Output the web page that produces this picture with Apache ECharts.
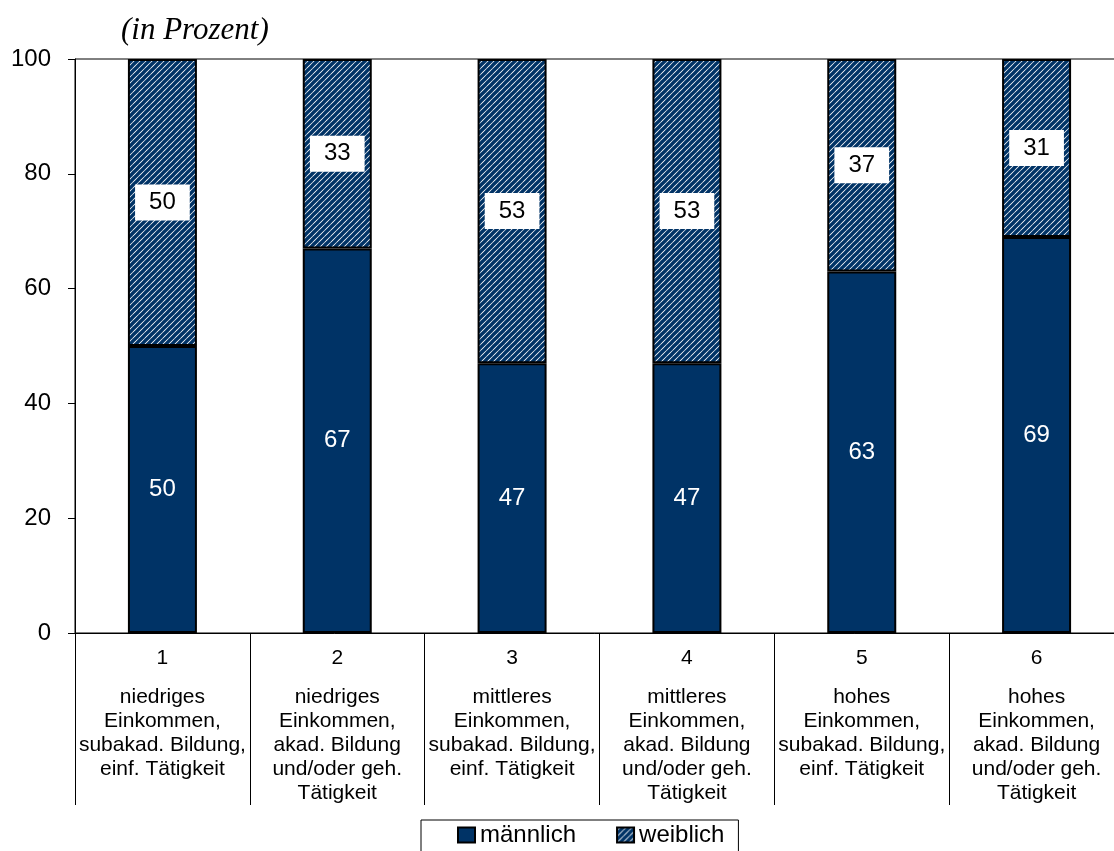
<!DOCTYPE html>
<html>
<head>
<meta charset="utf-8">
<script src="https://cdn.jsdelivr.net/npm/echarts@6/dist/echarts.min.js"></script>
<style>
html,body{margin:0;padding:0;background:#fff;}
#chart{width:1114px;height:851px;}
</style>
</head>
<body>
<div id="chart"></div>
<script>
var categoryNumbers = ['1', '2', '3', '4', '5', '6'];
var categoryTexts = [
  'niedriges\nEinkommen,\nsubakad. Bildung,\neinf. Tätigkeit',
  'niedriges\nEinkommen,\nakad. Bildung\nund/oder geh.\nTätigkeit',
  'mittleres\nEinkommen,\nsubakad. Bildung,\neinf. Tätigkeit',
  'mittleres\nEinkommen,\nakad. Bildung\nund/oder geh.\nTätigkeit',
  'hohes\nEinkommen,\nsubakad. Bildung,\neinf. Tätigkeit',
  'hohes\nEinkommen,\nakad. Bildung\nund/oder geh.\nTätigkeit'
];
var maleValues = [50, 67, 47, 47, 63, 69];
var femaleValues = [50, 33, 53, 53, 37, 31];
var seriesNames = ['männlich', 'weiblich'];
var yTicks = [0, 20, 40, 60, 80, 100];
var titleText = '(in Prozent)';

var NAVY = '#003366';

function makeHatch() {
  var s = 6;
  var c = document.createElement('canvas');
  c.width = s; c.height = s;
  var ctx = c.getContext('2d');
  ctx.fillStyle = '#ffffff';
  ctx.fillRect(0, 0, s, s);
  ctx.strokeStyle = NAVY;
  ctx.lineWidth = 3.4;
  ctx.lineCap = 'square';
  var segs = [[-s, s, s, -s], [0, s, s, 0], [0, 2 * s, 2 * s, 0]];
  segs.forEach(function (g) {
    ctx.beginPath();
    ctx.moveTo(g[0], g[1]);
    ctx.lineTo(g[2], g[3]);
    ctx.stroke();
  });
  return c;
}
var hatch = { image: makeHatch(), repeat: 'repeat' };

var categories = categoryNumbers.map(function (n, i) {
  return n + '|' + i;
});

var chart = echarts.init(document.getElementById('chart'), null, { renderer: 'canvas' });

var option = {
  backgroundColor: '#ffffff',
  animation: false,
  textStyle: { fontFamily: 'Liberation Sans, Arial, sans-serif' },
  title: {
    text: titleText,
    left: 116,
    top: 10,
    textStyle: {
      fontFamily: 'Liberation Serif, Times New Roman, serif',
      fontStyle: 'italic',
      fontWeight: 'normal',
      fontSize: 31,
      color: '#000'
    }
  },
  grid: {
    left: 75,
    top: 59,
    width: 1049,
    bottom: 218,
    show: true,
    borderColor: '#000',
    borderWidth: 1,
    containLabel: false,
    outerBoundsMode: 'none'
  },
  legend: {
    data: seriesNames,
    left: 421,
    top: 820,
    orient: 'horizontal',
    padding: [3, 14, 20, 36],
    itemGap: 40,
    itemWidth: 17,
    itemHeight: 15,
    borderColor: '#000',
    borderWidth: 1,
    icon: 'rect',
    textStyle: { fontSize: 24, color: '#000', fontFamily: 'Liberation Sans, Arial, sans-serif' }
  },
  xAxis: {
    type: 'category',
    data: categories,
    boundaryGap: true,
    axisLine: { show: true, lineStyle: { color: '#000', width: 1 } },
    axisTick: { show: true, length: 172, interval: 0, lineStyle: { color: '#000', width: 1 } },
    axisLabel: {
      interval: 0,
      margin: 13,
      color: '#000',
      formatter: function (v) {
        var parts = v.split('|');
        var idx = +parts[1];
        var lines = categoryTexts[idx].split('\n').map(function (l) { return '{t|' + l + '}'; });
        return '{n|' + parts[0] + '}\n{g| }\n' + lines.join('\n');
      },
      rich: {
        n: { fontSize: 21, lineHeight: 23.5, color: '#000', fontFamily: 'Liberation Sans, Arial, sans-serif' },
        g: { fontSize: 1, lineHeight: 15.5 },
        t: { fontSize: 21, lineHeight: 24, color: '#000', fontFamily: 'Liberation Sans, Arial, sans-serif' }
      }
    },
    splitLine: { show: false }
  },
  yAxis: {
    type: 'value',
    min: yTicks[0],
    max: yTicks[yTicks.length - 1],
    interval: yTicks[1] - yTicks[0],
    axisLine: { show: true, lineStyle: { color: '#000', width: 1 } },
    axisTick: { show: true, inside: false, length: 7, lineStyle: { color: '#000', width: 1 } },
    axisLabel: { fontSize: 24, color: '#000', margin: 24, fontFamily: 'Liberation Sans, Arial, sans-serif' },
    splitLine: { show: false }
  },
  series: [
    {
      name: seriesNames[0],
      type: 'bar',
      stack: 'total',
      barWidth: 69,
      data: maleValues,
      itemStyle: { color: NAVY, borderColor: '#000', borderWidth: 2 },
      label: {
        show: true,
        position: 'inside',
        color: '#fff',
        fontSize: 24,
        fontFamily: 'Liberation Sans, Arial, sans-serif'
      }
    },
    {
      name: seriesNames[1],
      type: 'bar',
      stack: 'total',
      barWidth: 69,
      data: femaleValues,
      itemStyle: { color: hatch, borderColor: '#000', borderWidth: 2 },
      label: {
        show: true,
        position: 'inside',
        color: '#000',
        fontSize: 24,
        backgroundColor: '#fff',
        padding: [6, 14, 6, 14],
        fontFamily: 'Liberation Sans, Arial, sans-serif'
      }
    }
  ]
};
chart.setOption(option);
</script>
</body>
</html>
